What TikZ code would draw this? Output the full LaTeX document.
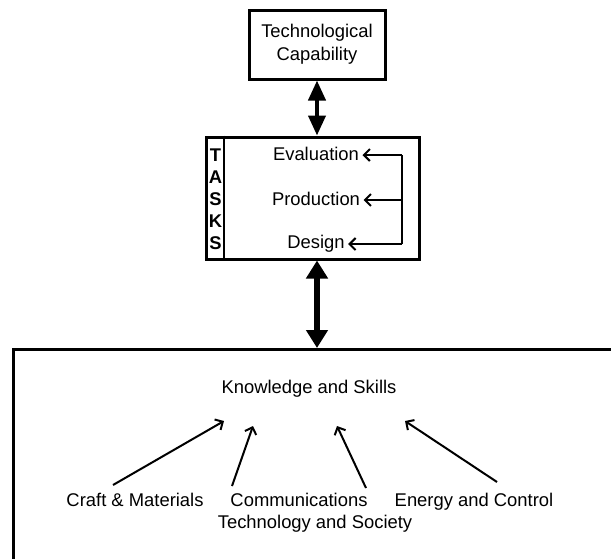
\documentclass[tikz,border=0pt]{standalone}
\usepackage{fontspec}
\setmainfont{Liberation Sans}
\usepackage{tikz}
\usetikzlibrary{arrows.meta}

\tikzset{
  frame/.style={draw, line width=3pt, rectangle, inner sep=0pt},
  txt/.style={text height=13pt, text depth=4pt},
  barb/.style={line width=2pt, -{Straight Barb[length=6pt,width=12pt]}},
  twohead/.style={line width=4pt, {Triangle[length=20pt,width=17pt]}-{Triangle[length=20pt,width=17pt]}},
  bighead/.style={line width=6pt, {Triangle[length=18pt,width=21pt]}-{Triangle[length=18pt,width=21pt]}}
}

\begin{document}
\begin{tikzpicture}[x=1pt,y=-1pt,font=\fontsize{18.4}{23}\selectfont]
\useasboundingbox (0,0) rectangle (611,558);
\clip (0,0) rectangle (611,558);

% boxes
\node[frame, minimum width=136pt, minimum height=69pt, align=center] (capab) at (317,44.5) {Technological\\Capability};
\node[frame, minimum width=213pt, minimum height=122pt] (tasks) at (312.5,198) {};
\node[frame, minimum width=640pt, minimum height=260pt, anchor=north west] (ks) at (12,348) {};
\draw [line width=2pt] ([xshift=19pt]tasks.north west) -- ([xshift=19pt]tasks.south west);
\node[font=\bfseries\fontsize{18.4}{22}\selectfont, align=center, inner sep=0pt] (letters) at (215.5,199) {T\\A\\S\\K\\S};

% tasks
\node[txt] (eval) at (316,156) {Evaluation};
\node[txt] (prod) at (316,201) {Production};
\node[txt] (desg) at (316,244) {Design};
\coordinate (rE) at (402,155);
\coordinate (rP) at (402,200);
\coordinate (rD) at (402,244);
\draw [line width=2pt] (rE) -- (rD);
\draw [barb] (rE) -- (eval.east |- rE);
\draw [barb] (rP) -- (prod.east |- rP);
\draw [barb] (rD) -- (desg.east |- rD);

% links between boxes
\draw [twohead] (capab.south) -- (capab.south |- tasks.north);
\draw [bighead] (capab.south |- tasks.south) -- (capab.south |- ks.north);

% knowledge and skills
\node[txt] (kns) at (309,389) {Knowledge and Skills};
\node[txt] (craft) at (135,502) {Craft \& Materials};
\node[txt] (comm) at (299,502) {Communications};
\node[txt] (energy) at (474,502) {Energy and Control};
\node[txt] (society) at (315,524) {Technology and Society};
\coordinate (k1) at (224,421);
\coordinate (k2) at (253,426);
\coordinate (k3) at (337,426);
\coordinate (k4) at (405,421);
\coordinate (c1) at (113,485);
\coordinate (c2) at (232,486);
\coordinate (c3) at (366,488);
\coordinate (c4) at (497,482);
\draw [barb] (c1) -- (k1);
\draw [barb] (c2) -- (k2);
\draw [barb] (c3) -- (k3);
\draw [barb] (c4) -- (k4);
\end{tikzpicture}
\end{document}
